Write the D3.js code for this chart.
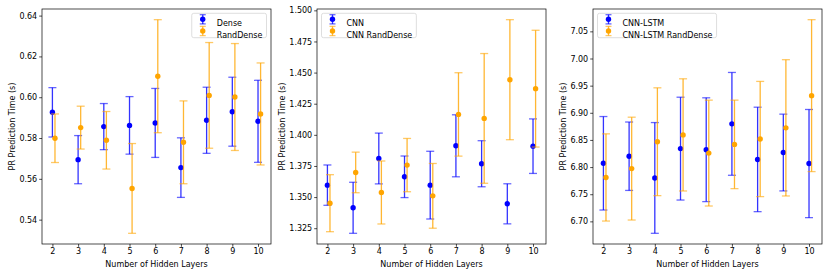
<!DOCTYPE html>
<html>
<head>
<meta charset="utf-8">
<script src="https://cdnjs.cloudflare.com/ajax/libs/d3/7.8.5/d3.min.js"></script>
<style>
  body { margin: 0; background: #fff; }
  svg { display: block; font-family: "DejaVu Sans", sans-serif; }
</style>
</head>
<body>
<svg id="chart" width="830" height="277"></svg>
<script>
// x categories
const layers = [2, 3, 4, 5, 6, 7, 8, 9, 10];

// panel 1 - Dense
const denseMean = [0.5926, 0.5694, 0.5856, 0.5862, 0.5874, 0.5655, 0.5887, 0.5929, 0.5882];
const denseErr = [0.0121, 0.0118, 0.0113, 0.0141, 0.0169, 0.0146, 0.0162, 0.0169, 0.0201];
const randDenseMean = [0.5799, 0.5851, 0.5789, 0.5553, 0.6103, 0.5779, 0.6009, 0.6001, 0.5918];
const randDenseErr = [0.0119, 0.0105, 0.0141, 0.0220, 0.0277, 0.0203, 0.0259, 0.0262, 0.0250];
const yTicks1 = [0.54, 0.56, 0.58, 0.60, 0.62, 0.64];

// panel 2 - CNN
const cnnMean = [1.3596, 1.3414, 1.3810, 1.3663, 1.3596, 1.3912, 1.3768, 1.3446, 1.3909];
const cnnErr = [0.0162, 0.0205, 0.0204, 0.0167, 0.0272, 0.0249, 0.0185, 0.0161, 0.0219];
const cnnRandMean = [1.3451, 1.3698, 1.3537, 1.3757, 1.3510, 1.4164, 1.4132, 1.4443, 1.4371];
const cnnRandErr = [0.0229, 0.0163, 0.0253, 0.0214, 0.0260, 0.0335, 0.0521, 0.0482, 0.0469];
const yTicks2 = [1.325, 1.350, 1.375, 1.400, 1.425, 1.450, 1.475, 1.500];

// panel 3 - CNN-LSTM
const lstmMean = [6.807, 6.820, 6.780, 6.834, 6.832, 6.8796, 6.8141, 6.8268, 6.8065];
const lstmErr = [0.0861, 0.063, 0.102, 0.0947, 0.0956, 0.0947, 0.0962, 0.0707, 0.0996];
const lstmRandMean = [6.7809, 6.7972, 6.8467, 6.8593, 6.8258, 6.8418, 6.8517, 6.8723, 6.9316];
const lstmRandErr = [0.0803, 0.0947, 0.0993, 0.1033, 0.0975, 0.0815, 0.1061, 0.1255, 0.1399];
const yTicks3 = [6.70, 6.75, 6.80, 6.85, 6.90, 6.95, 7.00, 7.05];

const BLUE = "#0000ff", ORANGE = "#ffa500";
const FS = 8;

const svg = d3.select("#chart");

function drawPanel(p) {
    const w = 229, h = 235, top = 9;
    const g = svg.append("g").attr("transform", "translate(" + p.left + "," + top + ")");

    // x: matplotlib style 5% margins around 2 .. 10.1
    const xmin = d3.min(layers), xmax = d3.max(layers) + 0.1;
    const xm = (xmax - xmin) * 0.05;
    const x = d3.scaleLinear().domain([xmin - xm, xmax + xm]).range([0, w]);

    // y: extent of error bars plus 5%
    let lo = [], hi = [];
    p.series.forEach(s => s.mean.forEach((m, i) => { lo.push(m - s.err[i]); hi.push(m + s.err[i]); }));
    const ymin = d3.min(lo), ymax = d3.max(hi), ym = (ymax - ymin) * 0.05;
    const y = d3.scaleLinear().domain([ymin - ym, ymax + ym]).range([h, 0]);

    // error bars + points
    p.series.forEach(s => {
        const grp = g.append("g");
        const pts = layers.map((l, i) => ({ x: l + s.off, m: s.mean[i], e: s.err[i] }));
        grp.selectAll("line.v").data(pts).join("line")
            .attr("class", "v")
            .attr("x1", d => x(d.x)).attr("x2", d => x(d.x))
            .attr("y1", d => y(d.m - d.e)).attr("y2", d => y(d.m + d.e))
            .attr("stroke", s.color).attr("stroke-width", 1.3).attr("stroke-opacity", 0.8);
        ["lo", "hi"].forEach(k => {
            grp.selectAll("line." + k).data(pts).join("line")
                .attr("class", k)
                .attr("x1", d => x(d.x) - 4).attr("x2", d => x(d.x) + 4)
                .attr("y1", d => y(k == "lo" ? d.m - d.e : d.m + d.e))
                .attr("y2", d => y(k == "lo" ? d.m - d.e : d.m + d.e))
                .attr("stroke", s.color).attr("stroke-width", 1.3).attr("stroke-opacity", 0.6);
        });
        grp.selectAll("circle").data(pts).join("circle")
            .attr("cx", d => x(d.x)).attr("cy", d => y(d.m)).attr("r", 2.7)
            .attr("fill", s.color);
    });

    // axes
    const xAxis = d3.axisBottom(x).tickValues(layers).tickSize(2.8).tickPadding(2).tickFormat(d3.format("d"));
    const yAxis = d3.axisLeft(y).tickValues(p.ticks).tickSize(2.8).tickPadding(2).tickFormat(d3.format(p.fmt));
    const gx = g.append("g").attr("transform", "translate(0," + h + ")").call(xAxis);
    const gy = g.append("g").call(yAxis);
    [gx, gy].forEach(a => {
        a.select(".domain").remove();
        a.selectAll("line").attr("stroke", "#000").attr("stroke-width", 0.7);
        a.selectAll("text").attr("font-size", FS).attr("font-family", "DejaVu Sans").attr("fill", "#000");
    });

    // frame
    g.append("rect").attr("width", w).attr("height", h)
        .attr("fill", "none").attr("stroke", "#000").attr("stroke-width", 0.7);

    // labels
    let tw = 0;
    gy.selectAll("text").each(function () { tw = Math.max(tw, this.getBBox().width); });
    g.append("text").attr("x", w / 2).attr("y", 267 - top)
        .attr("text-anchor", "middle").attr("font-size", FS).text("Number of Hidden Layers");
    g.append("text")
        .attr("transform", "translate(" + (-tw - 4.8 - 4) + "," + (h / 2) + ") rotate(-90)")
        .attr("text-anchor", "middle").attr("font-size", FS).text("PR Prediction Time (s)");

    // legend
    const lg = g.append("g");
    let maxw = 0;
    const txt = lg.selectAll("text").data(p.series).join("text")
        .attr("x", 25).attr("y", (d, i) => 10.3 + i * 11.7 + 2.9)
        .attr("font-size", FS).text(d => d.name);
    txt.each(function () { maxw = Math.max(maxw, this.getBBox().width); });
    const lw = 25 + maxw + 4, lh = 24.4;
    lg.insert("rect", ":first-child").attr("width", lw).attr("height", lh)
        .attr("rx", 2).attr("fill", "#fff").attr("fill-opacity", 0.8)
        .attr("stroke", "#d0d0d0").attr("stroke-width", 0.7);
    p.series.forEach((s, i) => {
        const cy = 6 + i * 11.7, cx = 11;
        lg.append("line").attr("x1", cx).attr("x2", cx).attr("y1", cy - 4.6).attr("y2", cy + 4.6)
            .attr("stroke", s.color).attr("stroke-width", 1.3).attr("stroke-opacity", 0.8);
        [-4.6, 4.6].forEach(dy => lg.append("line")
            .attr("x1", cx - 3).attr("x2", cx + 3).attr("y1", cy + dy).attr("y2", cy + dy)
            .attr("stroke", s.color).attr("stroke-width", 1.3).attr("stroke-opacity", 0.6));
        lg.append("circle").attr("cx", cx).attr("cy", cy).attr("r", 2.7).attr("fill", s.color);
    });
    const lx = p.legendRight ? w - lw - 4.5 : 4.5;
    lg.attr("transform", "translate(" + lx + ",4.3)");
}

drawPanel({
    left: 42, ticks: yTicks1, fmt: ".2f", legendRight: true,
    series: [
        { name: "Dense", mean: denseMean, err: denseErr, color: BLUE, off: 0 },
        { name: "RandDense", mean: randDenseMean, err: randDenseErr, color: ORANGE, off: 0.1 }
    ]
});
drawPanel({
    left: 317, ticks: yTicks2, fmt: ".3f", legendRight: false,
    series: [
        { name: "CNN", mean: cnnMean, err: cnnErr, color: BLUE, off: 0 },
        { name: "CNN RandDense", mean: cnnRandMean, err: cnnRandErr, color: ORANGE, off: 0.1 }
    ]
});
drawPanel({
    left: 593, ticks: yTicks3, fmt: ".2f", legendRight: false,
    series: [
        { name: "CNN-LSTM", mean: lstmMean, err: lstmErr, color: BLUE, off: 0 },
        { name: "CNN-LSTM RandDense", mean: lstmRandMean, err: lstmRandErr, color: ORANGE, off: 0.1 }
    ]
});
</script>
</body>
</html>
